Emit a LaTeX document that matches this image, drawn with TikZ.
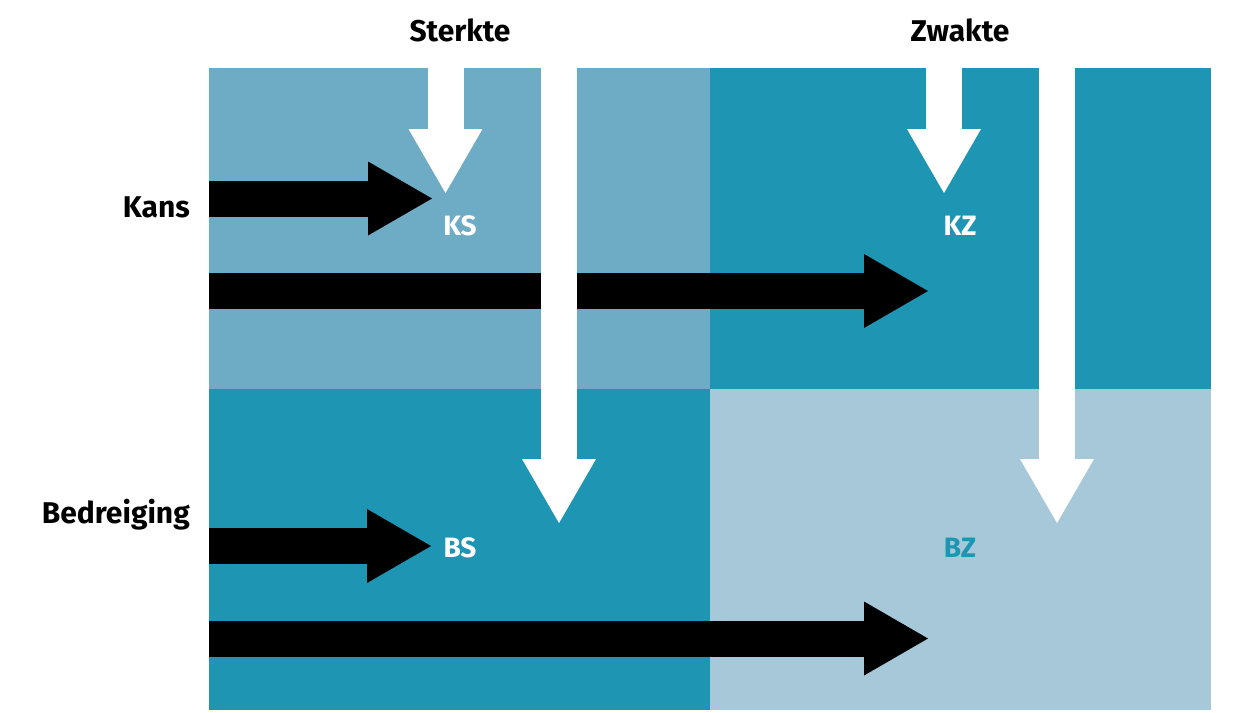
\documentclass[tikz,border=0pt]{standalone}
\usepackage{fontspec}
\setmainfont{Fira Sans}
\usetikzlibrary{arrows.meta}

\definecolor{kansblue}{HTML}{6EABC5}
\definecolor{teal}{HTML}{1F95B4}
\definecolor{paleblue}{HTML}{A7C8D8}

\begin{document}
\begin{tikzpicture}[x=1pt, y=-1pt,
  quad/.style={draw=none, inner sep=0pt, minimum width=501pt, minimum height=321pt, anchor=north west},
  head/.style={font=\fontsize{30}{34}\selectfont\bfseries, inner sep=0pt},
  tag/.style={font=\fontsize{28}{32}\selectfont\bfseries, inner sep=0pt, anchor=base},
  blockarrow/.style={line width=36pt, -{Triangle[width=74pt, length=64pt, line width=0pt]}}]
\useasboundingbox (0,0) rectangle (1241,712);
% kwadranten
\node[quad, fill=kansblue] (ks) at (209,68) {};
\node[quad, fill=teal] (kz) at (710,68) {};
\node[quad, fill=teal] (bs) at (209,389) {};
\node[quad, fill=paleblue] (bz) at (710,389) {};
% koppen
\node[head, anchor=base] (sterkte) at (460,41) {Sterkte};
\node[head, anchor=base] (zwakte) at (960,41) {Zwakte};
\node[head, anchor=base east] (kans) at (190,217) {Kans};
\node[head, anchor=base east] (bedreiging) at (190,523) {Bedreiging};
% zwarte pijlen
\coordinate (k1) at (209,198.5);
\coordinate (k1e) at (432,198.5);
\coordinate (k2) at (209,291);
\coordinate (k2e) at (928,291);
\coordinate (b1) at (209,546);
\coordinate (b1e) at (431,546);
\coordinate (b2) at (209,638.5);
\coordinate (b2e) at (928,638.5);
\foreach \s/\e in {k1/k1e, k2/k2e, b1/b1e, b2/b2e}
  \draw[blockarrow, black] (\s) -- (\e);
% witte pijlen
\coordinate (s1) at (445.5,68);
\coordinate (s1e) at (445.5,193);
\coordinate (s2) at (559,68);
\coordinate (s2e) at (559,523);
\coordinate (z1) at (944,68);
\coordinate (z1e) at (944,193);
\coordinate (z2) at (1057,68);
\coordinate (z2e) at (1057,523);
\foreach \s/\e in {s1/s1e, s2/s2e, z1/z1e, z2/z2e}
  \draw[blockarrow, white] (\s) -- (\e);
% labels
\node[tag, text=white] (kslabel) at (460,235) {KS};
\node[tag, text=white] (kzlabel) at (960,235) {KZ};
\node[tag, text=white] (bslabel) at (460,557) {BS};
\node[tag, text=teal] (bzlabel) at (960,557) {BZ};
\end{tikzpicture}
\end{document}
